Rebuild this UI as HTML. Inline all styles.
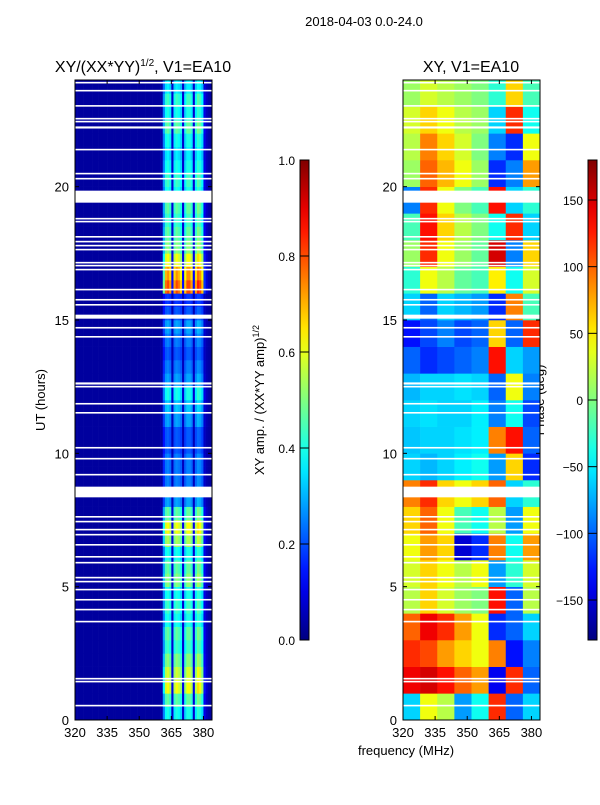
<!DOCTYPE html>
<html><head><meta charset="utf-8">
<style>
body{margin:0;background:#fff;}
svg text{font-family:"Liberation Sans",sans-serif;fill:#000;}
</style></head>
<body>
<svg id="fig" width="600" height="800" xmlns="http://www.w3.org/2000/svg">
<rect width="600" height="800" fill="#fff"/>
<text x="364" y="26" font-size="13" text-anchor="middle">2018-04-03 0.0-24.0</text>
<text x="143" y="72" font-size="16" text-anchor="middle">XY/(XX*YY)<tspan font-size="10" dy="-6">1/2</tspan><tspan dy="6">, V1=EA10</tspan></text>
<text x="471" y="72" font-size="16" text-anchor="middle">XY, V1=EA10</text>
<text transform="translate(45,400) rotate(-90)" font-size="13" text-anchor="middle">UT (hours)</text>
<text x="406" y="755" font-size="13" text-anchor="middle">frequency (MHz)</text>
<text transform="translate(264,400) rotate(-90)" font-size="13" text-anchor="middle">XY amp. / (XX*YY amp)<tspan font-size="9" dy="-5">1/2</tspan></text>
<text transform="translate(544,400) rotate(-90)" font-size="13" text-anchor="middle">Phase (deg)</text>
<g id="left"></g>
<g id="right"></g>
<g id="axes"></g>
</svg>
<script>
// ---- data ----
const freqMin = 320, freqMax = 384;
const hourMin = 0, hourMax = 24;
const xTicks = [320, 335, 350, 365, 380];
const yTicks = [0, 5, 10, 15, 20];
const ampTicks = [0.0, 0.2, 0.4, 0.6, 0.8, 1.0];
const phaseTicks = [-150, -100, -50, 0, 50, 100, 150];
const ampBase = 0.03;
// per-1MHz channel gain (320..383)
const channelGain = [0.03,0.03,0.03,0.03,0.03,0.03,0.03,0.03,0.03,0.03,0.03,0.03,0.03,0.03,0.03,0.03,
0.03,0.03,0.03,0.03,0.03,0.03,0.03,0.03,0.03,0.03,0.03,0.03,0.03,0.03,0.03,0.03,
0.03,0.03,0.03,0.03,0.03,0.03,0.03,0.03,0.04,0.25,0.38,0.4,0.36,0.08,0.36,0.4,
0.38,0.34,0.08,0.34,0.4,0.4,0.36,0.08,0.36,0.42,0.4,0.34,0.1,0.06,0.04,0.03];
// per half-hour row factor (0-0.5h ... 23.5-24h)
const rowFactor = [1.0,1.2,1.6,1.5,1.3,1.1,1.2,1.0,1.1,1.0,1.3,1.2,1.0,1.4,1.6,1.2,
0.7,0.6,0.6,0.6,0.5,0.5,0.7,0.8,1.0,0.7,0.6,0.5,0.6,0.7,0.5,0.4,
2.1,1.9,1.6,1.3,1.2,1.1,1.2,1.0,1.1,1.0,0.9,1.0,1.2,1.0,1.1,0.9];
// phase grid: rows hour 0..23, cols 8 MHz bins
const phaseRows = [
[-60,40,20,-80,-40,120,-100,-60],
[140,150,130,100,80,-140,120,-100],
[120,110,80,60,40,90,-130,-90],
[100,140,120,80,40,-120,-100,-60],
[20,60,30,10,0,130,-100,20],
[30,60,40,20,40,-80,-30,30],
[40,80,60,-150,-120,90,-40,80],
[60,100,40,-20,-40,20,-80,40],
[90,120,60,40,60,100,-60,-30],
[-60,-70,-60,-50,-40,-80,60,-120],
[-65,-60,-60,-55,-50,90,130,-100],
[-60,-55,-60,-60,-50,-90,-40,-110],
[-70,-60,-60,-55,-60,-100,40,-90],
[-100,-120,-110,-100,-90,130,-60,-80],
[-130,-110,-90,-110,-100,60,-100,120],
[-60,-100,-60,-70,-80,-120,90,-20],
[-30,40,20,-10,-20,50,-40,30],
[10,120,40,10,-10,150,-90,60],
[-20,130,60,20,0,-40,120,-60],
[-90,120,40,0,-20,130,-60,-30],
[10,100,70,40,10,-120,-90,80],
[20,90,60,30,0,-90,-120,40],
[30,60,40,20,10,-60,120,-40],
[10,30,20,10,0,-30,60,-20]];
// flagged (white) time ranges in hours
const gapStart = [19.4,8.35,15.05,23.87,23.57,23.0,22.52,22.41,22.18,21.36,20.46,20.27,18.77,18.66,18.09,17.91,17.76,17.61,17.12,17.01,16.86,16.11,15.73,15.54,14.68,14.34,12.58,12.47,11.83,11.49,10.18,9.77,9.17,7.59,7.41,7.11,6.92,6.54,6.09,5.87,5.31,5.16,4.86,4.48,4.11,3.66,1.52,1.41,0.51];
const gapEnd =   [19.85,8.75,15.2,23.93,23.63,23.06,22.58,22.47,22.26,21.42,20.52,20.33,18.83,18.72,18.15,17.97,17.82,17.67,17.18,17.07,16.92,16.17,15.79,15.6,14.74,14.4,12.66,12.53,11.89,11.55,10.24,9.83,9.23,7.65,7.47,7.17,6.98,6.6,6.15,5.93,5.37,5.22,4.92,4.54,4.17,3.72,1.58,1.47,0.57];

// ---- scales ----
const NS="http://www.w3.org/2000/svg";
const plotTop=80, plotBot=720, leftX0=75, rightX0=403, plotW=137;
function xScale(f,x0){return x0+(f-freqMin)/(freqMax-freqMin)*plotW;}
function yScale(h){return plotBot-(h-hourMin)/(hourMax-hourMin)*(plotBot-plotTop);}
function jet(v){v=Math.max(0,Math.min(1,v));
 const r=Math.max(0,Math.min(1,1.5-Math.abs(4*v-3)));
 const g=Math.max(0,Math.min(1,1.5-Math.abs(4*v-2)));
 const b=Math.max(0,Math.min(1,1.5-Math.abs(4*v-1)));
 return `rgb(${Math.round(r*255)},${Math.round(g*255)},${Math.round(b*255)})`;}
function mk(tag,attrs,parent){const e=document.createElementNS(NS,tag);for(const k in attrs)e.setAttribute(k,attrs[k]);parent.appendChild(e);return e;}

// left heatmap
const L=document.getElementById('left');
for(let i=0;i<rowFactor.length;i++){
 const h0=i*0.5,h1=h0+0.5;
 for(let j=0;j<channelGain.length;j++){
  const g=channelGain[j];
  const v=ampBase+(g-ampBase)*rowFactor[i];
  const x=xScale(freqMin+j,leftX0), x2=xScale(freqMin+j+1,leftX0);
  const r=mk('rect',{x:x,y:yScale(h1),width:x2-x+0.3,height:yScale(h0)-yScale(h1)+0.3,fill:jet(v)},L);
  
  
 }
}
// right heatmap
const R=document.getElementById('right');
const binW=(freqMax-freqMin)/phaseRows[0].length;
for(let i=0;i<phaseRows.length;i++){
 for(let j=0;j<phaseRows[i].length;j++){
  const x=xScale(freqMin+j*binW,rightX0), x2=xScale(freqMin+(j+1)*binW,rightX0);
  const r=mk('rect',{x:x,y:yScale(i+1),width:x2-x+0.3,height:yScale(i)-yScale(i+1)+0.3,fill:jet((phaseRows[i][j]+180)/360)},R);
  
  
 }
}
// gaps
const A=document.getElementById('axes');
for(let k=0;k<gapStart.length;k++){
 for(const x0 of [leftX0,rightX0]){
  const r=mk('rect',{x:x0,y:yScale(gapEnd[k]),width:plotW,height:Math.max(1.5,yScale(gapStart[k])-yScale(gapEnd[k])),fill:'#fff'},A);
  
  
 }
}
// frames and ticks
for(const x0 of [leftX0,rightX0]){
 const f=mk('rect',{x:x0,y:plotTop,width:plotW,height:plotBot-plotTop,fill:'none',stroke:'#000','stroke-width':1},A);
 
 
 for(const t of xTicks){const x=xScale(t,x0);
  mk('line',{x1:x,x2:x,y1:plotBot,y2:plotBot-4,stroke:'#000'},A);
  mk('line',{x1:x,x2:x,y1:plotTop,y2:plotTop+4,stroke:'#000'},A);
  const tx=mk('text',{x:x,y:plotBot+17,'font-size':13,'text-anchor':'middle'},A);tx.textContent=t;
  
  }
 for(const t of yTicks){const y=yScale(t);
  mk('line',{x1:x0,x2:x0+4,y1:y,y2:y,stroke:'#000'},A);
  mk('line',{x1:x0+plotW,x2:x0+plotW-4,y1:y,y2:y,stroke:'#000'},A);
  const ty=mk('text',{x:x0-6,y:y+5,'font-size':13,'text-anchor':'end'},A);ty.textContent=t;
  
  }
}
// colorbars
const defs=mk('defs',{},A);
const grad=mk('linearGradient',{id:'jetg',x1:0,y1:1,x2:0,y2:0},defs);
for(let s=0;s<=20;s++)mk('stop',{offset:s/20,'stop-color':jet(s/20)},grad);
function colorbar(x,ticks,vmin,vmax,fmt,name){
 const top=160,bot=640;
 const r=mk('rect',{x:x,y:top,width:9,height:bot-top,fill:'url(#jetg)',stroke:'#000','stroke-width':1},A);
 
 
 for(const t of ticks){const y=bot-(t-vmin)/(vmax-vmin)*(bot-top);
  mk('line',{x1:x,x2:x+9,y1:y,y2:y,stroke:'#000'},A);
  const tx=mk('text',{x:x-5,y:y+5,'font-size':12,'text-anchor':'end'},A);tx.textContent=fmt(t);
  
  }
}
colorbar(300,ampTicks,0,1,t=>t.toFixed(1),'amp-colorbar');
colorbar(588,phaseTicks,-180,180,t=>t<0?'\u2212'+(-t):String(t),'phase-colorbar');
</script>
</body></html>
